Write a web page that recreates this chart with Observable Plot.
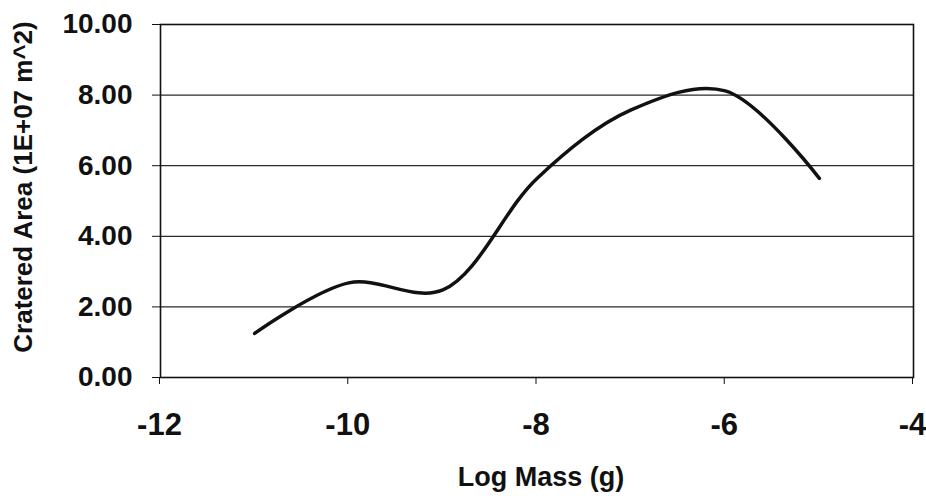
<!DOCTYPE html>
<html><head><meta charset="utf-8">
<script src="https://cdn.jsdelivr.net/npm/d3@7"></script>
<script src="https://cdn.jsdelivr.net/npm/@observablehq/plot@0.6"></script>
<style>html,body{margin:0;padding:0;background:#fff}</style>
</head><body><div id="chart"></div>
<script>
const logMass = [-11, -10, -9, -8, -7, -6, -5];
const crateredArea = [1.25, 2.68, 2.48, 5.64, 7.58, 8.12, 5.64];
const xTicks = [-12, -10, -8, -6, -4];
const yTicks = [0, 2, 4, 6, 8, 10];
const gridValues = [2, 4, 6, 8];
const xTitle = "Log Mass (g)";
const yTitle = "Cratered Area (1E+07 m^2)";

const data = logMass.map((x, i) => ({x, y: crateredArea[i]}));

const chart = Plot.plot({
  width: 926, height: 496,
  marginLeft: 160, marginRight: 13, marginTop: 24, marginBottom: 119,
  style: {fontFamily: "'Liberation Sans', Arial, sans-serif", fontWeight: "bold", color: "#111", background: "#fff"},
  x: {domain: [-12, -4]},
  y: {domain: [0, 10]},
  marks: [
    Plot.ruleY(gridValues, {stroke: "#2a2a2a", strokeWidth: 1.2}),
    Plot.frame({stroke: "#111", strokeWidth: 1.6}),
    Plot.axisX(xTicks, {tickSize: 7, tickPadding: 28, fontSize: 31, dx: -1, label: null, stroke: "#111", tickFormat: d => String(d)}),
    Plot.axisY(yTicks, {tickSize: 8, tickPadding: 20, fontSize: 28, label: null, tickFormat: d => d.toFixed(2), stroke: "#111"}),
    Plot.text([xTitle], {frameAnchor: "bottom", dy: 108, dx: 4, lineAnchor: "bottom", textAnchor: "middle", fontSize: 27, fill: "#111"}),
    Plot.text([yTitle], {frameAnchor: "left", rotate: -90, dx: -137, dy: -14, lineAnchor: "middle", textAnchor: "middle", fontSize: 26, fill: "#111"}),
    Plot.line(data, {x: "x", y: "y", curve: "catmull-rom", stroke: "#111", strokeWidth: 3.5})
  ]
});
document.getElementById("chart").appendChild(chart);
</script>
</body></html>
